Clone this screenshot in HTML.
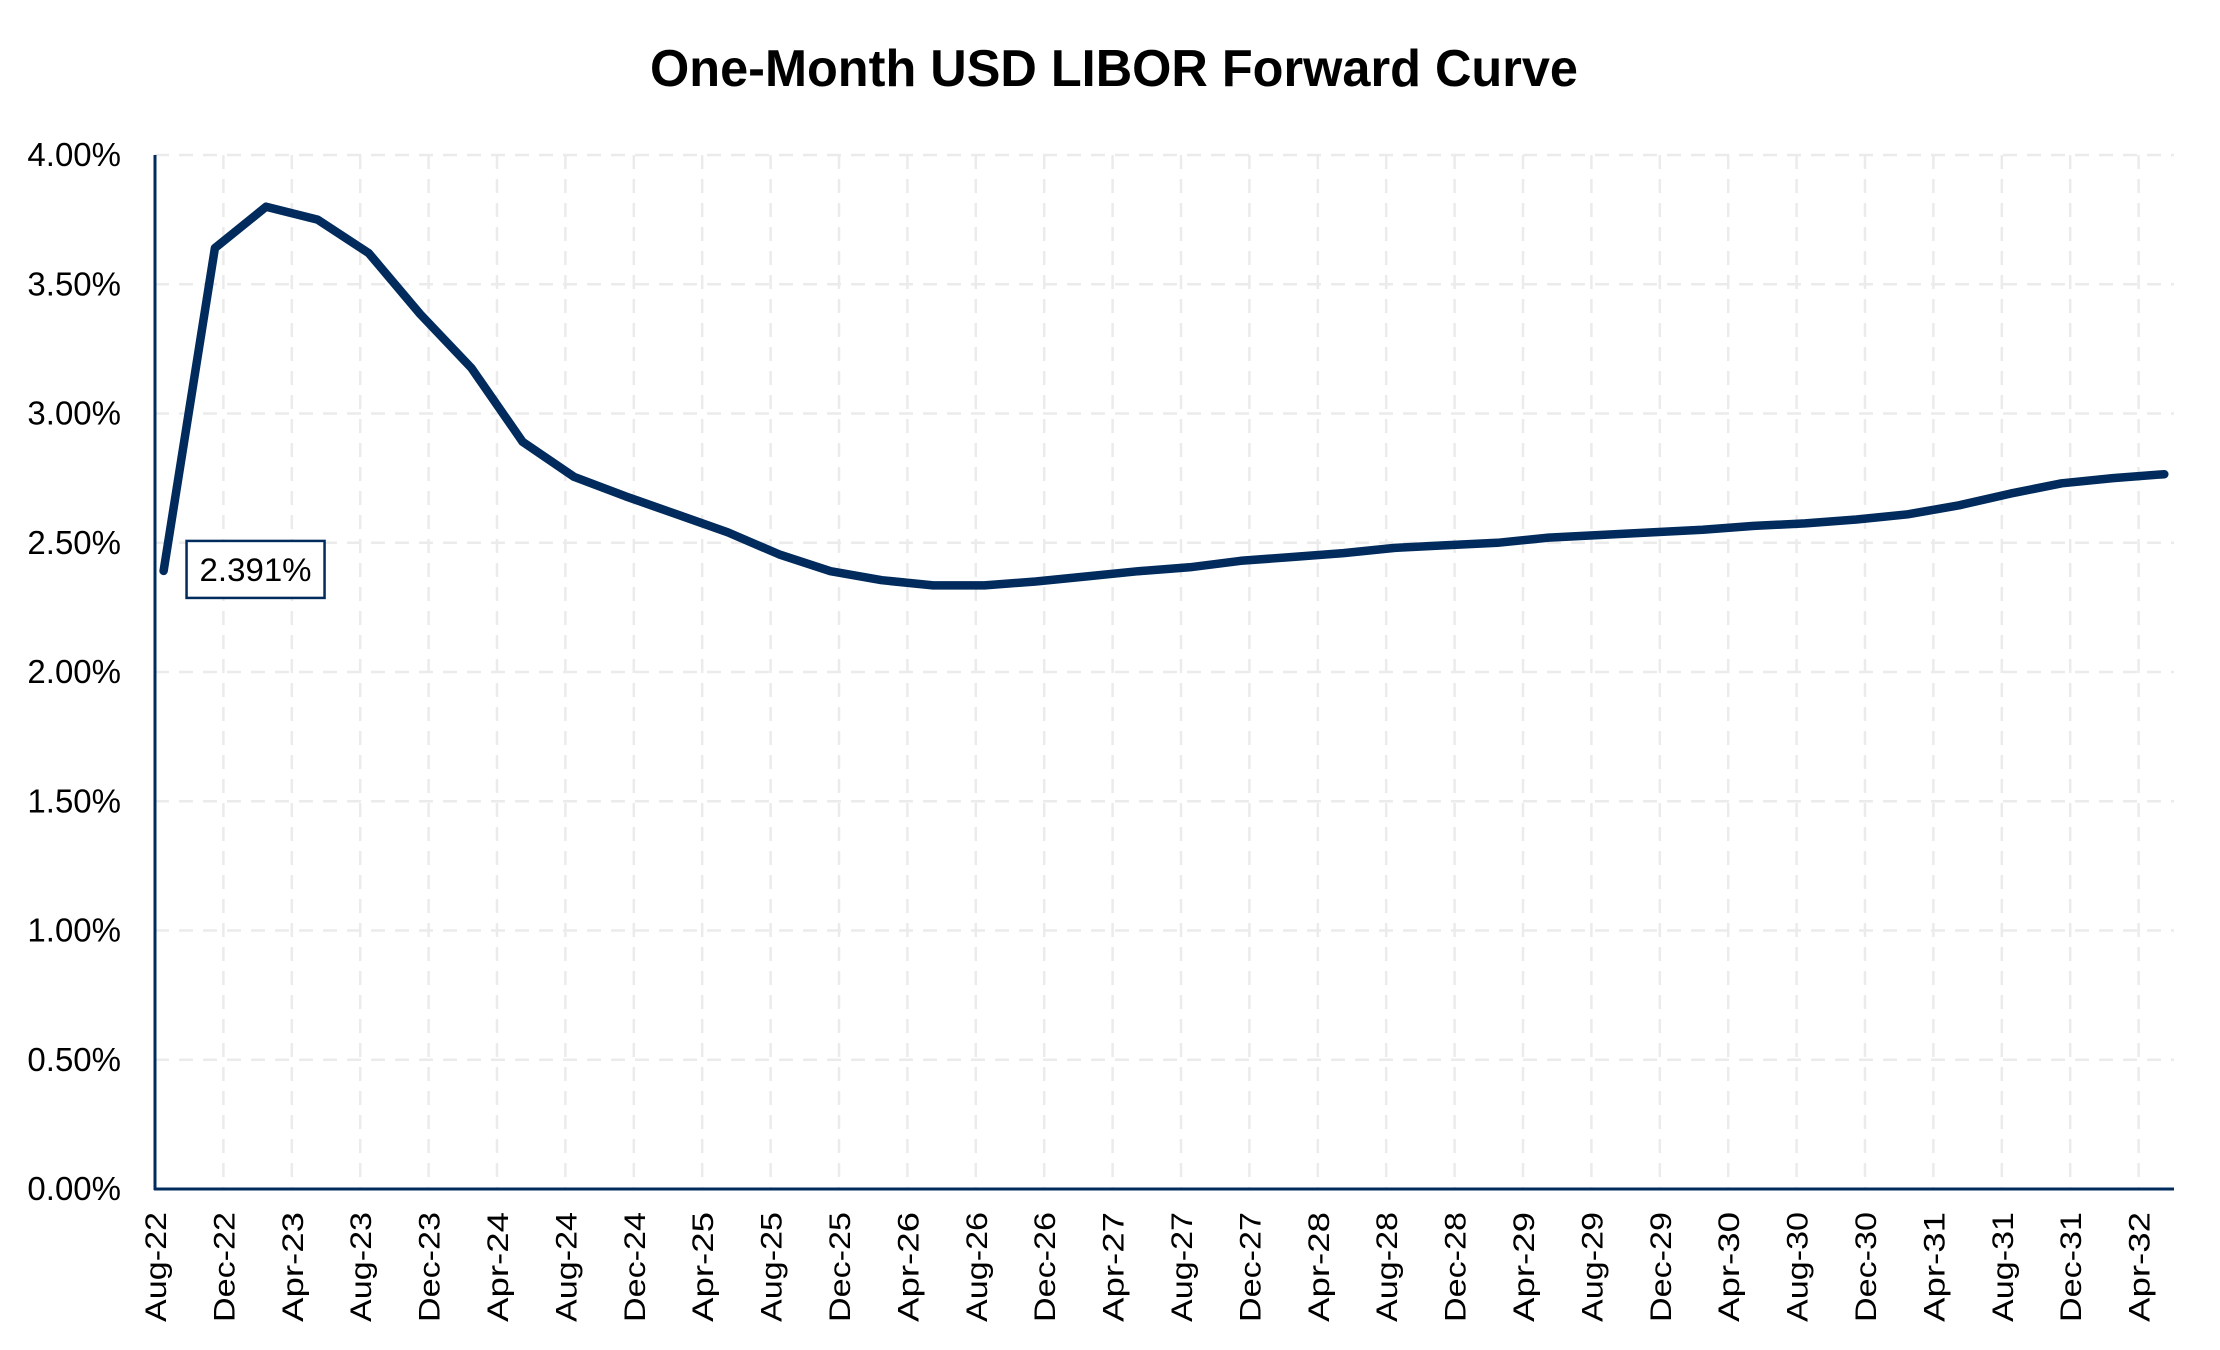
<!DOCTYPE html>
<html><head><meta charset="utf-8"><style>
html,body{margin:0;padding:0;background:#fff;}
svg{display:block;font-family:"Liberation Sans",sans-serif;}
</style></head><body>
<svg id="chart" width="2220" height="1350" viewBox="0 0 2220 1350" xmlns="http://www.w3.org/2000/svg">
<text x="1114" y="86" text-anchor="middle" font-size="52" font-weight="bold" textLength="928" lengthAdjust="spacingAndGlyphs" fill="#000">One-Month USD LIBOR Forward Curve</text>
<g id="grid"></g>
<g id="yaxis"></g>
<g id="xaxis"></g>
<g id="series"></g>
<g id="annot"></g>
</svg>
<script>
const yTicks = [0, 0.5, 1, 1.5, 2, 2.5, 3, 3.5, 4];
const xTickLabels = ["Aug-22","Dec-22","Apr-23","Aug-23","Dec-23","Apr-24","Aug-24","Dec-24","Apr-25","Aug-25","Dec-25","Apr-26","Aug-26","Dec-26","Apr-27","Aug-27","Dec-27","Apr-28","Aug-28","Dec-28","Apr-29","Aug-29","Dec-29","Apr-30","Aug-30","Dec-30","Apr-31","Aug-31","Dec-31","Apr-32"];
// month offset from Aug-22 for each data point (quarterly, mid-month)
const pointMonths = [0.5,3.5,6.5,9.5,12.5,15.5,18.5,21.5,24.5,27.5,30.5,33.5,36.5,39.5,42.5,45.5,48.5,51.5,54.5,57.5,60.5,63.5,66.5,69.5,72.5,75.5,78.5,81.5,84.5,87.5,90.5,93.5,96.5,99.5,102.5,105.5,108.5,111.5,114.5,117.5];
const rateValues = [2.391,3.64,3.80,3.75,3.62,3.385,3.176,2.89,2.755,2.68,2.61,2.54,2.455,2.39,2.355,2.335,2.335,2.35,2.37,2.39,2.405,2.43,2.445,2.46,2.48,2.49,2.50,2.52,2.53,2.54,2.55,2.565,2.575,2.59,2.61,2.645,2.69,2.73,2.75,2.765];
const annotationText = "2.391%";

const X0 = 155, PX_PER_MONTH = 17.1, XEND = 2174;
const Y0 = 1189, PX_PER_PCT = 258.5;
const xs = m => X0 + m * PX_PER_MONTH;
const ys = v => Y0 - v * PX_PER_PCT;
const NS = "http://www.w3.org/2000/svg";
function mk(tag, attrs, parent){const e=document.createElementNS(NS,tag);for(const k in attrs)e.setAttribute(k,attrs[k]);parent.appendChild(e);return e;}

const grid=document.getElementById('grid'), yax=document.getElementById('yaxis'), xax=document.getElementById('xaxis');
yTicks.forEach(v=>{
  if(v>0){
    const l=mk('line',{x1:X0,x2:XEND,y1:ys(v),y2:ys(v),stroke:'#ebebeb','stroke-width':2.5,'stroke-dasharray':'14,10'},grid);
    
    
  }
  const t=mk('text',{x:121,y:ys(v)+11,'text-anchor':'end','font-size':33,fill:'#000'},yax);
  t.textContent=v.toFixed(2)+'%';
  
  
});
xTickLabels.forEach((lab,i)=>{
  const x=xs(i*4);
  if(i>0){
    const l=mk('line',{x1:x,x2:x,y1:ys(4),y2:Y0,stroke:'#ebebeb','stroke-width':2.5,'stroke-dasharray':'14,10'},grid);
    
    
  }
  const t=mk('text',{x:0,y:0,'text-anchor':'end','font-size':30,textLength:110,lengthAdjust:'spacingAndGlyphs',fill:'#000',transform:`translate(${x+11},1212) rotate(-90)`},xax);
  t.textContent=lab;
  
  
});
const ya=mk('line',{x1:X0,x2:X0,y1:ys(4),y2:Y0+1,stroke:'#002b5c','stroke-width':3},yax);


const xa=mk('line',{x1:X0-1,x2:XEND,y1:Y0,y2:Y0,stroke:'#002b5c','stroke-width':3},xax);



const pts=pointMonths.map((m,i)=>xs(m).toFixed(1)+','+ys(rateValues[i]).toFixed(1)).join(' ');
const pl=mk('polyline',{points:pts,fill:'none',stroke:'#002b5c','stroke-width':8.5,'stroke-linejoin':'round','stroke-linecap':'round'},document.getElementById('series'));



const an=document.getElementById('annot');
const ax=xs(pointMonths[0])+23, ay=ys(rateValues[0])-30;
const r=mk('rect',{x:ax,y:ay,width:138,height:57,fill:'#fff',stroke:'#002b5c','stroke-width':2.5},an);


const at=mk('text',{x:ax+69,y:ay+40,'text-anchor':'middle','font-size':32,textLength:112,lengthAdjust:'spacingAndGlyphs',fill:'#000'},an);
at.textContent=annotationText;


</script>
</body></html>
